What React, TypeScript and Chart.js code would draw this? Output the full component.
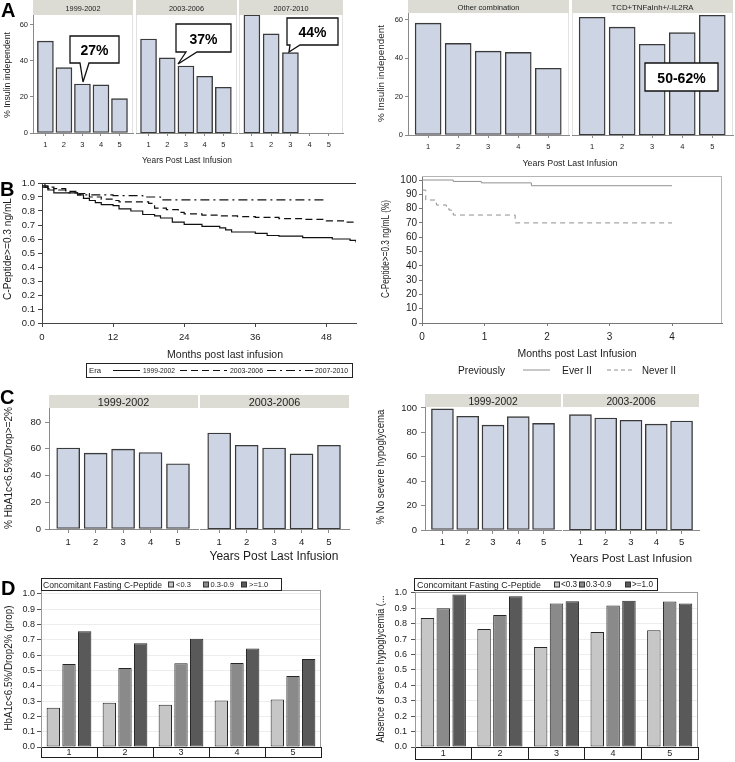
import React, { useEffect, useRef } from 'react';
import { Chart, registerables } from 'chart.js';

Chart.register(...registerables);

// ---------------- DATA ----------------
const YEARS = [1, 2, 3, 4, 5];
const YEAR_LABELS = ['1', '2', '3', '4', '5'];
const ERAS = ['1999-2002', '2003-2006', '2007-2010'];
const INDUCTION = ['Other combination', 'TCD+TNFaInh+/-IL2RA'];

// Panel A
const INS_1999 = [51, 36.3, 27.2, 26.7, 19.1];
const INS_2003 = [52.2, 41.7, 37.2, 31.5, 25.4];
const INS_2007 = [65.6, 55, 44.6];
const INS_OTHER = [58.3, 47.8, 43.7, 43.1, 34.8];
const INS_TCD = [61.4, 56.2, 47.3, 53.4, 62.4];
const INS_TICKS = [0, 20, 40, 60];
const CALLOUTS_A = ['27%', '37%', '44%'];
const CALLOUT_TCD = '50-62%';

// Panel B (Kaplan-Meier, months / proportion)
const MONTH_TICKS = [0, 12, 24, 36, 48];
const ERA1999_T = [0, 0.5, 1, 2, 6, 7, 8, 9, 10, 12, 13, 15, 17, 19, 20, 22, 24, 27, 30, 31, 32, 36, 38, 40, 44, 49, 52, 53];
const ERA1999_S = [1.0, 0.97, 0.95, 0.93, 0.915, 0.89, 0.875, 0.86, 0.845, 0.838, 0.815, 0.8, 0.775, 0.765, 0.75, 0.72, 0.705, 0.69, 0.68, 0.665, 0.65, 0.64, 0.625, 0.62, 0.61, 0.6, 0.59, 0.575];
const ERA2003_T = [0, 1, 2, 4, 6, 8, 10, 12, 13, 18, 19, 21, 23, 24, 27, 30, 33, 36, 40, 44, 48, 51, 53];
const ERA2003_S = [0.98, 0.97, 0.96, 0.94, 0.925, 0.9, 0.885, 0.875, 0.865, 0.855, 0.82, 0.81, 0.79, 0.78, 0.77, 0.765, 0.76, 0.755, 0.745, 0.74, 0.73, 0.72, 0.71];
const ERA2007_T = [0, 1, 2, 4, 6, 12, 17, 20, 47.6];
const ERA2007_S = [0.97, 0.96, 0.95, 0.93, 0.915, 0.91, 0.9, 0.88, 0.88];
const PROP_TICKS = [0, 0.1, 0.2, 0.3, 0.4, 0.5, 0.6, 0.7, 0.8, 0.9, 1.0];

const II_GROUPS = ['Ever II', 'Never II'];
const MONTH2_TICKS = [0, 1, 2, 3, 4];
const PCT10_TICKS = [0, 10, 20, 30, 40, 50, 60, 70, 80, 90, 100];
const EVER_T = [0, 0.5, 0.95, 1.75, 4.0];
const EVER_S = [100, 99, 98, 96, 96];
const NEVER_T = [0, 0.06, 0.23, 0.39, 0.43, 0.47, 0.5, 1.49, 4.0];
const NEVER_S = [93, 86, 82.5, 81, 79, 77, 75.5, 70, 70];

// Panel C
const HBA_1999 = [60.6, 56.7, 59.7, 57.2, 48.8];
const HBA_2003 = [71.8, 62.6, 60.6, 56.2, 62.6];
const HBA_TICKS = [0, 20, 40, 60, 80];
const HYPO_1999 = [99.2, 93.2, 86, 92.9, 87.4];
const HYPO_2003 = [94.5, 91.8, 89.9, 86.8, 89.3];
const HYPO_TICKS = [0, 20, 40, 60, 80, 100];

// Panel D
const CPEP_GROUPS = ['<0.3', '0.3-0.9', '>=1.0'];
const D_HBA_LOW = [0.256, 0.289, 0.276, 0.304, 0.311];
const D_HBA_MID = [0.543, 0.516, 0.547, 0.549, 0.464];
const D_HBA_HIGH = [0.757, 0.678, 0.707, 0.643, 0.575];
const D_HYPO_LOW = [0.838, 0.766, 0.649, 0.747, 0.758];
const D_HYPO_MID = [0.9, 0.857, 0.931, 0.918, 0.944];
const D_HYPO_HIGH = [0.989, 0.978, 0.946, 0.95, 0.931];

// ---------------- STYLE ----------------
const FONT = '"Liberation Sans", Arial, Helvetica, sans-serif';
const TXT = '#1c1c1c';
const AXIS = '#8a8a8a';
const BAR_FILL = '#cdd4e3';
const BAR_EDGE = '#3a3a3a';
const STRIP = '#dcdcd5';
const CPEP_COLORS = ['#c6c6c6', '#8a8a8a', '#595959'];
const PT = 12;
const PR = 6;

type Geo = { L: number; T: number; R: number; B: number; yw: number; xh: number };

const framePlugin = {
  id: 'frame',
  afterDraw(chart: any, _a: any, o: any) {
    if (!o) return;
    const { ctx, chartArea: a } = chart;
    const seg = (x1: number, y1: number, x2: number, y2: number, c: string) => {
      ctx.strokeStyle = c;
      ctx.lineWidth = 1;
      ctx.beginPath();
      ctx.moveTo(x1, y1);
      ctx.lineTo(x2, y2);
      ctx.stroke();
    };
    ctx.save();
    if (o.top) seg(a.left, a.top + 0.5, a.right, a.top + 0.5, o.top);
    if (o.right) seg(a.right - 0.5, a.top, a.right - 0.5, a.bottom, o.right);
    if (o.left) seg(a.left + 0.5, a.top, a.left + 0.5, a.bottom, o.left);
    if (o.boxBelow) seg(a.left, a.bottom + o.boxBelow - 0.5, a.right, a.bottom + o.boxBelow - 0.5, o.boxColor || '#222');
    ctx.restore();
  },
};

function ChartBox({ geo, make }: { geo: Geo; make: (g: Geo) => any }) {
  const ref = useRef<HTMLCanvasElement | null>(null);
  const left = geo.L - geo.yw;
  const top = geo.T - PT;
  const w = geo.R - geo.L + geo.yw + PR;
  const h = geo.B - geo.T + PT + geo.xh;
  useEffect(() => {
    const cfg = make(geo);
    cfg.options.responsive = false;
    cfg.options.animation = false;
    cfg.options.devicePixelRatio = 1;
    cfg.options.events = [];
    cfg.options.layout = { padding: { left: 0, right: PR, top: PT, bottom: 0 } };
    cfg.options.plugins = { legend: { display: false }, tooltip: { enabled: false }, ...(cfg.options.plugins || {}) };
    cfg.plugins = [framePlugin];
    const chart = new Chart(ref.current as HTMLCanvasElement, cfg);
    return () => chart.destroy();
  }, []);
  return <canvas ref={ref} width={w} height={h} style={{ position: 'absolute', left, top, width: w, height: h }} />;
}

const tickFont = (size: number) => ({ family: FONT, size });
const toTicks = (arr: number[]) => (s: any) => {
  s.ticks = arr.map((v) => ({ value: v }));
};

function yAxis(g: Geo, o: any) {
  const ticks: any = { font: tickFont(o.fs), color: TXT, padding: o.pad, autoSkip: false };
  if (o.fmt) ticks.callback = (v: any) => o.fmt(Number(v));
  return {
    type: 'linear',
    display: o.show !== false,
    min: 0,
    max: o.max,
    afterBuildTicks: toTicks(o.ticks),
    afterFit: (s: any) => {
      s.width = g.yw;
    },
    grid: {
      display: true,
      drawOnChartArea: !!o.grid,
      color: o.grid || AXIS,
      tickColor: o.tickColor || o.axisColor || AXIS,
      drawTicks: true,
      tickLength: o.tl,
    },
    border: { display: true, color: o.axisColor || AXIS },
    ticks,
  };
}

function xLinear(g: Geo, o: any) {
  return {
    type: 'linear',
    min: o.min,
    max: o.max,
    offset: false,
    afterBuildTicks: toTicks(o.ticks),
    afterFit: (s: any) => {
      s.height = g.xh;
    },
    grid: { display: true, offset: false, drawOnChartArea: false, drawTicks: true, tickLength: o.tl, color: o.color || AXIS },
    border: { display: true, color: o.color || AXIS },
    ticks: { font: tickFont(o.fs), color: TXT, padding: o.pad, maxRotation: 0, autoSkip: false },
  };
}

function facetBars(values: number[], f: any) {
  return (g: Geo) => ({
    type: 'bar',
    data: {
      datasets: [
        {
          data: values.map((v, i) => ({ x: YEARS[i], y: v })),
          backgroundColor: BAR_FILL,
          borderColor: BAR_EDGE,
          borderWidth: 1.4,
          borderSkipped: false,
          barThickness: f.thick,
        },
      ],
    },
    options: {
      plugins: { frame: f.frame || {} },
      scales: {
        x: xLinear(g, { min: f.xMin, max: f.xMax, ticks: YEARS, fs: f.fs, tl: f.xTl, pad: f.xPad }),
        y: yAxis(g, { show: f.showY, max: f.yMax, ticks: f.yTicks, fs: f.fs, tl: f.yTl, pad: f.yPad }),
      },
    },
  });
}

const pts = (t: number[], s: number[]) => t.map((v, i) => ({ x: v, y: s[i] }));

const bLeft = (g: Geo) => ({
  type: 'line',
  data: {
    datasets: [
      { label: ERAS[0], data: pts(ERA1999_T, ERA1999_S), borderColor: '#111', borderWidth: 1.2, pointRadius: 0, stepped: true },
      { label: ERAS[1], data: pts(ERA2003_T, ERA2003_S), borderColor: '#111', borderWidth: 1.2, borderDash: [7, 4], pointRadius: 0, stepped: true },
      { label: ERAS[2], data: pts(ERA2007_T, ERA2007_S), borderColor: '#111', borderWidth: 1.2, borderDash: [9, 4, 2, 4], pointRadius: 0, stepped: true },
    ],
  },
  options: {
    plugins: { frame: { top: '#333' } },
    scales: {
      x: xLinear(g, { min: 0, max: 53, ticks: MONTH_TICKS, fs: 9.5, tl: 4, pad: 4.3, color: '#444' }),
      y: yAxis(g, { max: 1, ticks: PROP_TICKS, fs: 9.5, tl: 4, pad: 3, fmt: (v: number) => v.toFixed(1), axisColor: '#444' }),
    },
  },
});

const bRight = (g: Geo) => ({
  type: 'line',
  data: {
    datasets: [
      { label: II_GROUPS[0], data: pts(EVER_T, EVER_S), borderColor: '#909090', borderWidth: 1, pointRadius: 0, stepped: true },
      { label: II_GROUPS[1], data: pts(NEVER_T, NEVER_S), borderColor: '#909090', borderWidth: 1, borderDash: [5, 4], pointRadius: 0, stepped: true },
    ],
  },
  options: {
    plugins: { frame: { top: '#b5b5b5', right: '#b5b5b5' } },
    scales: {
      x: xLinear(g, { min: 0, max: 4.8, ticks: MONTH2_TICKS, fs: 10, tl: 3, pad: 5, color: '#777' }),
      y: yAxis(g, { max: 102.8, ticks: PCT10_TICKS, fs: 10, tl: 3, pad: 2, axisColor: '#777' }),
    },
  },
});

function groupedBars(low: number[], mid: number[], high: number[], o: any) {
  return (g: Geo) => ({
    type: 'bar',
    data: {
      labels: YEAR_LABELS,
      datasets: [low, mid, high].map((arr, k) => ({
        label: CPEP_GROUPS[k],
        data: arr,
        backgroundColor: CPEP_COLORS[k],
        borderColor: '#262626',
        borderWidth: 1,
        borderSkipped: false,
        categoryPercentage: 0.84,
        barPercentage: 0.85,
      })),
    },
    options: {
      plugins: { frame: { top: '#9a9a9a', right: '#9a9a9a', boxBelow: o.box, boxColor: '#1e1e1e' } },
      scales: {
        x: {
          type: 'category',
          offset: true,
          afterFit: (s: any) => {
            s.height = g.xh;
          },
          grid: { display: true, offset: true, drawOnChartArea: false, drawTicks: true, tickLength: o.box, color: '#1e1e1e' },
          border: { display: true, color: '#1e1e1e' },
          ticks: { font: tickFont(9), color: TXT, padding: o.xPad, maxRotation: 0, autoSkip: false },
        },
        y: yAxis(g, {
          max: o.max,
          ticks: PROP_TICKS,
          fs: 9,
          tl: 4,
          pad: o.yPad,
          fmt: (v: number) => v.toFixed(1),
          grid: '#ededed',
          axisColor: '#9a9a9a',
          tickColor: '#555',
        }),
      },
    },
  });
}

// ---------------- OVERLAY TEXT ----------------
function Txt(p: any) {
  const props: any = {
    fontSize: p.s,
    fontFamily: FONT,
    textAnchor: p.anchor || 'middle',
    dominantBaseline: p.base || 'central',
    fill: p.fill || TXT,
    fontWeight: p.bold ? 'bold' : 'normal',
  };
  if (p.w) {
    props.textLength = p.w;
    props.lengthAdjust = 'spacingAndGlyphs';
  }
  if (p.rot) {
    return (
      <text transform={`translate(${p.x},${p.y}) rotate(-90)`} x={0} y={0} {...props}>
        {p.children}
      </text>
    );
  }
  return (
    <text x={p.x} y={p.y} {...props}>
      {p.children}
    </text>
  );
}

const bubble = (l: number, t: number, r: number, b: number, tail?: number[]) =>
  tail ? `M${l},${t}H${r}V${b}H${tail[1]}L${tail[2]},${tail[3]}L${tail[0]},${b}H${l}Z` : `M${l},${t}H${r}V${b}H${l}Z`;

function Strip({ x1, x2, y1, y2, label, s, w }: any) {
  return (
    <g>
      <rect x={x1} y={y1} width={x2 - x1} height={y2 - y1} fill={STRIP} />
      <Txt x={(x1 + x2) / 2} y={(y1 + y2) / 2 + 0.5} s={s} w={w}>
        {label}
      </Txt>
    </g>
  );
}

function Overlay() {
  const Y = 'Years Post Last Infusion';
  return (
    <svg width={735} height={762} style={{ position: 'absolute', left: 0, top: 0, pointerEvents: 'none' }}>
      {/* panel letters */}
      <Txt x={1} y={17} s={20} bold anchor="start" base="alphabetic" fill="#000">A</Txt>
      <Txt x={0} y={196} s={20} bold anchor="start" base="alphabetic" fill="#000">B</Txt>
      <Txt x={0} y={404} s={20} bold anchor="start" base="alphabetic" fill="#000">C</Txt>
      <Txt x={1} y={595} s={20} bold anchor="start" base="alphabetic" fill="#000">D</Txt>

      {/* A strips */}
      <Strip x1={33} x2={133} y1={0} y2={15} label={ERAS[0]} s={7.5} w={35} />
      <Strip x1={136} x2={237} y1={0} y2={15} label={ERAS[1]} s={7.5} w={35} />
      <Strip x1={239} x2={343} y1={0} y2={15} label={ERAS[2]} s={7.5} w={35} />
      <Strip x1={408} x2={569} y1={0} y2={13} label={INDUCTION[0]} s={7.5} w={62} />
      <Strip x1={572} x2={733} y1={0} y2={13} label={INDUCTION[1]} s={7.5} w={82} />
      {/* C strips */}
      <Strip x1={49} x2={198} y1={395} y2={408} label={ERAS[0]} s={10.8} />
      <Strip x1={200} x2={349} y1={395} y2={408} label={ERAS[1]} s={10.8} />
      <Strip x1={425} x2={561} y1={394} y2={407} label={ERAS[0]} s={10.3} />
      <Strip x1={563} x2={699} y1={394} y2={407} label={ERAS[1]} s={10.3} />

      {/* callouts */}
      <path d={bubble(70, 36, 119, 63, [80, 89, 83, 82])} fill="#fff" stroke="#111" strokeWidth={1.3} />
      <Txt x={94.5} y={50} s={14} bold fill="#000">{CALLOUTS_A[0]}</Txt>
      <path d={bubble(176, 24, 231, 52, [186, 197, 178, 64])} fill="#fff" stroke="#111" strokeWidth={1.3} />
      <Txt x={203.5} y={38.5} s={14} bold fill="#000">{CALLOUTS_A[1]}</Txt>
      <path d={bubble(287, 18, 338, 45, [290, 300, 289, 52])} fill="#fff" stroke="#111" strokeWidth={1.3} />
      <Txt x={312.5} y={32} s={14} bold fill="#000">{CALLOUTS_A[2]}</Txt>
      <path d={bubble(645, 63, 718, 91)} fill="#fff" stroke="#111" strokeWidth={1.3} />
      <Txt x={681.5} y={77.5} s={14} bold fill="#000">{CALLOUT_TCD}</Txt>

      {/* axis titles */}
      <Txt x={7} y={75} s={9} w={86} rot>% Insulin independent</Txt>
      <Txt x={187} y={160} s={8.5} w={90}>{Y}</Txt>
      <Txt x={380} y={73.5} s={9.5} w={97} rot>% Insulin independent</Txt>
      <Txt x={570} y={163} s={9} w={95}>{Y}</Txt>

      <Txt x={7.5} y={249} s={10} w={102} rot>C-Peptide&gt;=0.3 ng/mL</Txt>
      <Txt x={225} y={354} s={10.5} w={116}>Months post last infusion</Txt>
      <Txt x={385} y={249} s={10} w={98} rot>C-Peptide&gt;=0.3 ng/mL (%)</Txt>
      <Txt x={577} y={353} s={10.5} w={119}>Months post Last Infusion</Txt>

      <Txt x={8} y={468} s={10} w={122} rot>% HbA1c&lt;6.5%/Drop&gt;=2%</Txt>
      <Txt x={274} y={556} s={12}>{Y}</Txt>
      <Txt x={380} y={467} s={10} w={115} rot>% No severe hypoglycema</Txt>
      <Txt x={631} y={558} s={11.4}>{Y}</Txt>

      <Txt x={8} y={668} s={10} w={125} rot>HbA1c&lt;6.5%/Drop2% (prop)</Txt>
      <Txt x={380} y={669} s={10} w={147} rot>Absence of severe hypoglycemia (...</Txt>

      {/* B left legend */}
      <rect x={86.5} y={363.5} width={266} height={14} fill="#fff" stroke="#222" strokeWidth={1} />
      <Txt x={89} y={370.5} s={8} anchor="start" w={12}>Era</Txt>
      <line x1={113} y1={370.5} x2={140} y2={370.5} stroke="#111" strokeWidth={1} />
      <Txt x={143} y={370.5} s={7.5} anchor="start" w={32}>{ERAS[0]}</Txt>
      <line x1={180} y1={370.5} x2={227} y2={370.5} stroke="#111" strokeWidth={1} strokeDasharray="7 4" />
      <Txt x={230} y={370.5} s={7.5} anchor="start" w={33}>{ERAS[1]}</Txt>
      <line x1={267} y1={370.5} x2={313} y2={370.5} stroke="#111" strokeWidth={1} strokeDasharray="9 4 2 4" />
      <Txt x={315} y={370.5} s={7.5} anchor="start" w={33}>{ERAS[2]}</Txt>

      {/* B right legend */}
      <Txt x={458} y={370} s={10} anchor="start" w={47}>Previously</Txt>
      <line x1={523} y1={370} x2={550} y2={370} stroke="#909090" strokeWidth={1} />
      <Txt x={562} y={370} s={10} anchor="start" w={30}>{II_GROUPS[0]}</Txt>
      <line x1={607} y1={370} x2={633} y2={370} stroke="#909090" strokeWidth={1} strokeDasharray="4 3" />
      <Txt x={642} y={370} s={10} anchor="start" w={34}>{II_GROUPS[1]}</Txt>

      {/* D left legend */}
      <rect x={41.5} y={578.5} width={240} height={12} fill="#fff" stroke="#222" strokeWidth={1} />
      <Txt x={43} y={584.5} s={8.7} anchor="start" w={119}>Concomitant Fasting C-Peptide</Txt>
      <rect x={168.5} y={582} width={5} height={5} fill={CPEP_COLORS[0]} stroke="#333" />
      <Txt x={176} y={584.5} s={7.5} anchor="start">{CPEP_GROUPS[0]}</Txt>
      <rect x={203.5} y={582} width={5} height={5} fill={CPEP_COLORS[1]} stroke="#333" />
      <Txt x={210.5} y={584.5} s={7.5} anchor="start">{CPEP_GROUPS[1]}</Txt>
      <rect x={241.5} y={582} width={5} height={5} fill={CPEP_COLORS[2]} stroke="#333" />
      <Txt x={249} y={584.5} s={7.5} anchor="start">{CPEP_GROUPS[2]}</Txt>

      {/* D right legend */}
      <rect x={414.5} y={578.5} width={243} height={12} fill="#fff" stroke="#222" strokeWidth={1} />
      <Txt x={417} y={584.5} s={9} anchor="start" w={124}>Concomitant Fasting C-Peptide</Txt>
      <rect x={554.5} y={582} width={5} height={5} fill={CPEP_COLORS[0]} stroke="#333" />
      <Txt x={561} y={584.5} s={8.2} anchor="start">{CPEP_GROUPS[0]}</Txt>
      <rect x={579.5} y={582} width={5} height={5} fill={CPEP_COLORS[1]} stroke="#333" />
      <Txt x={586} y={584.5} s={8.2} anchor="start">{CPEP_GROUPS[1]}</Txt>
      <rect x={625.5} y={582} width={5} height={5} fill={CPEP_COLORS[2]} stroke="#333" />
      <Txt x={632} y={584.5} s={8.2} anchor="start">{CPEP_GROUPS[2]}</Txt>
    </svg>
  );
}

// ---------------- APP ----------------
const A_L = { xMin: 0.33, xMax: 5.73, thick: 16, yMax: 65.5, yTicks: INS_TICKS, fs: 7.5, yTl: 3, yPad: 2, xTl: 3, xPad: 4.5 };
const A_R = { xMin: 0.33, xMax: 5.69, thick: 26, yMax: 63.6, yTicks: INS_TICKS, fs: 7.5, yTl: 3, yPad: 2, xTl: 3, xPad: 4.5 };
const C_L = { xMin: 0.3, xMax: 5.73, thick: 23, yMax: 90.5, yTicks: HBA_TICKS, fs: 9.5, yTl: 4, yPad: 4, xTl: 4, xPad: 3.3 };
const C_R = { xMin: 0.31, xMax: 5.69, thick: 22, yMax: 100.8, yTicks: HYPO_TICKS, fs: 9.5, yTl: 4, yPad: 4, xTl: 4, xPad: 2.3 };
const FAINT = '#e2e2e2';

export default function App() {
  return (
    <div style={{ position: 'fixed', left: 0, top: 0, width: 735, height: 762, background: '#fff', overflow: 'hidden', fontFamily: FONT }}>
      {/* A left */}
      <ChartBox geo={{ L: 33, R: 133, T: 15, B: 133, yw: 21, xh: 22 }} make={facetBars(INS_1999, { ...A_L, showY: true, frame: { right: FAINT } })} />
      <ChartBox geo={{ L: 136, R: 237, T: 15, B: 133, yw: 0, xh: 22 }} make={facetBars(INS_2003, { ...A_L, showY: false, frame: { right: FAINT, left: FAINT } })} />
      <ChartBox geo={{ L: 239, R: 343, T: 15, B: 133, yw: 0, xh: 22 }} make={facetBars(INS_2007, { ...A_L, showY: false, frame: { right: FAINT, left: FAINT } })} />
      {/* A right */}
      <ChartBox geo={{ L: 408, R: 569, T: 13, B: 135, yw: 20, xh: 22 }} make={facetBars(INS_OTHER, { ...A_R, showY: true, frame: { right: FAINT } })} />
      <ChartBox geo={{ L: 572, R: 733, T: 13, B: 135, yw: 0, xh: 22 }} make={facetBars(INS_TCD, { ...A_R, showY: false, frame: { right: FAINT, left: FAINT } })} />
      {/* B */}
      <ChartBox geo={{ L: 42, R: 356, T: 183, B: 323, yw: 42, xh: 24 }} make={bLeft} />
      <ChartBox geo={{ L: 422, R: 722, T: 176, B: 323, yw: 27, xh: 24 }} make={bRight} />
      {/* C */}
      <ChartBox geo={{ L: 49, R: 198, T: 408, B: 529, yw: 24, xh: 22 }} make={facetBars(HBA_1999, { ...C_L, showY: true })} />
      <ChartBox geo={{ L: 200, R: 349, T: 408, B: 529, yw: 0, xh: 22 }} make={facetBars(HBA_2003, { ...C_L, showY: false })} />
      <ChartBox geo={{ L: 425, R: 561, T: 407, B: 530, yw: 25, xh: 22 }} make={facetBars(HYPO_1999, { ...C_R, showY: true })} />
      <ChartBox geo={{ L: 563, R: 699, T: 407, B: 530, yw: 0, xh: 22 }} make={facetBars(HYPO_2003, { ...C_R, showY: false })} />
      {/* D */}
      <ChartBox geo={{ L: 41, R: 321, T: 590, B: 747, yw: 26, xh: 12 }} make={groupedBars(D_HBA_LOW, D_HBA_MID, D_HBA_HIGH, { max: 1.026, box: 11, xPad: -10.9, yPad: 2 })} />
      <ChartBox geo={{ L: 415, R: 698, T: 592, B: 747, yw: 25, xh: 14 }} make={groupedBars(D_HYPO_LOW, D_HYPO_MID, D_HYPO_HIGH, { max: 1.006, box: 13, xPad: -11.9, yPad: 4 })} />
      <Overlay />
    </div>
  );
}
